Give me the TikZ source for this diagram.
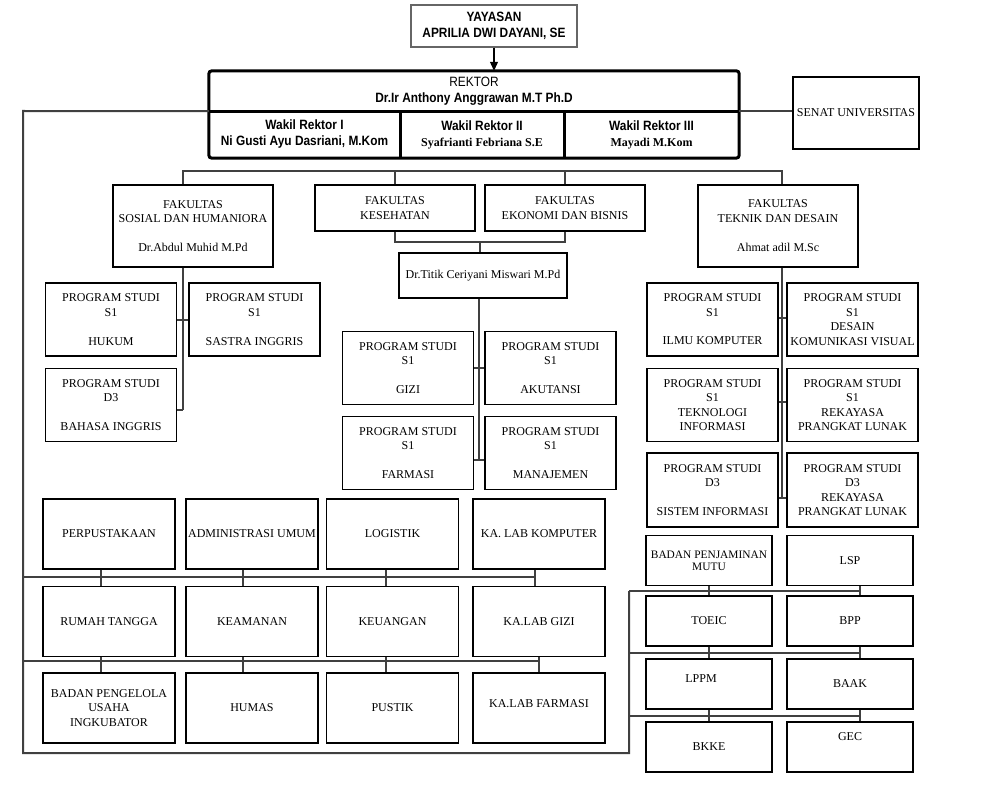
\documentclass[tikz,border=0pt]{standalone}
\usepackage{fontspec}
\setmainfont{Liberation Serif}
\newfontfamily\narrowsans[FakeStretch=0.88]{Liberation Sans}
\usepackage{tikz}
\usetikzlibrary{arrows.meta,calc}

\begin{document}
\begin{tikzpicture}[x=1pt,y=-1pt]
    \tikzstyle{every node}+=[inner sep=0pt, align=center, font=\fontsize{12}{14.5}\selectfont]
    \tikzstyle{box}=[draw=black, line width=1.2pt]
    \tikzstyle{link}=[draw=black!75, line width=2pt]
    \tikzstyle{topfont}=[font=\narrowsans\fontsize{13.5}{16}\selectfont]
    \tikzstyle{topbold}=[font=\narrowsans\bfseries\fontsize{13.5}{16}\selectfont]
    \tikzstyle{fakultas}=[box, minimum width=160pt]
    \tikzstyle{prodi}=[box, minimum width=131pt, minimum height=73pt]
    \tikzstyle{unit}=[box, minimum width=132pt, minimum height=70pt]
    \tikzstyle{badan}=[box, minimum width=126pt, minimum height=50pt]
    \useasboundingbox (0,0) rectangle (1000,794);

    \node [box, draw=black!60, minimum width=166pt, minimum height=42pt, topbold] (yayasan) at (494,26) {YAYASAN\\APRILIA DWI DAYANI, SE};
    \node [minimum width=530pt, minimum height=40pt, topfont] (rektor) at (474,91) {REKTOR\\\textbf{Dr.Ir Anthony Anggrawan M.T Ph.D}};
    \node [minimum width=191pt, minimum height=47pt, topbold] (wr1) at (304.5,134.5) {Wakil Rektor I\\Ni Gusti Ayu Dasriani, M.Kom};
    \node [minimum width=164pt, minimum height=47pt, topbold] (wr2) at (482,134.5) {Wakil Rektor II\\\rmfamily\fontsize{12}{17}\selectfont Syafrianti Febriana S.E};
    \node [minimum width=175pt, minimum height=47pt, topbold] (wr3) at (651.5,134.5) {Wakil Rektor III\\\rmfamily\fontsize{12}{17}\selectfont Mayadi M.Kom};
    \node [box, minimum width=126pt, minimum height=72pt] (senat) at (856,113) {SENAT UNIVERSITAS};
    \draw [line width=3pt, rounded corners=3pt] (rektor.north west) rectangle (wr3.south east);
    \draw [line width=3pt] (rektor.south west) -- (rektor.south east);
    \draw [line width=3pt] (wr1.north east) -- (wr1.south east);
    \draw [line width=3pt] (wr2.north east) -- (wr2.south east);
    \draw [black, line width=1.2pt, -{Triangle[length=9pt,width=8pt]}] (yayasan.south) -- (yayasan.south |- rektor.north);
    \draw [link] (rektor.south east) -- (rektor.south east -| senat.west);

    \node [fakultas, minimum height=82pt] (fsh) at (193,226) {FAKULTAS\\SOSIAL DAN HUMANIORA\\[14pt]Dr.Abdul Muhid M.Pd};
    \node [fakultas, minimum height=46pt] (fkes) at (395,208) {FAKULTAS\\KESEHATAN};
    \node [fakultas, minimum height=46pt] (feb) at (565,208) {FAKULTAS\\EKONOMI DAN BISNIS};
    \node [fakultas, minimum height=82pt] (ftd) at (778,226) {FAKULTAS\\TEKNIK DAN DESAIN\\[15pt]Ahmat adil M.Sc};
    \node [box, minimum width=168pt, minimum height=45pt] (titik) at (483,275.5) {Dr.Titik Ceriyani Miswari M.Pd};

    \node [prodi] (hukum) at (111,319.5) {PROGRAM STUDI\\S1\\[14.5pt]HUKUM};
    \node [prodi] (sastra) at (254.5,319.5) {PROGRAM STUDI\\S1\\[14.5pt]SASTRA INGGRIS};
    \node [prodi] (bing) at (111,405) {PROGRAM STUDI\\D3\\[14.5pt]BAHASA INGGRIS};
    \node [prodi] (gizi) at (408,368) {PROGRAM STUDI\\S1\\[14.5pt]GIZI};
    \node [prodi] (akun) at (550.5,368) {PROGRAM STUDI\\S1\\[14.5pt]AKUTANSI};
    \node [prodi] (farm) at (408,453) {PROGRAM STUDI\\S1\\[14.5pt]FARMASI};
    \node [prodi] (manaj) at (550.5,453) {PROGRAM STUDI\\S1\\[14.5pt]MANAJEMEN};
    \node [prodi] (ilkom) at (712.5,319.5) {PROGRAM STUDI\\S1\\[14pt]ILMU KOMPUTER};
    \node [prodi] (dkv) at (852.5,319.5) {PROGRAM STUDI\\S1\\DESAIN\\KOMUNIKASI VISUAL};
    \node [prodi] (ti) at (712.5,405) {PROGRAM STUDI\\S1\\TEKNOLOGI\\INFORMASI};
    \node [prodi] (rpl1) at (852.5,405) {PROGRAM STUDI\\S1\\REKAYASA\\PRANGKAT LUNAK};
    \node [prodi, minimum height=74pt] (si) at (712.5,490) {PROGRAM STUDI\\D3\\[14pt]SISTEM INFORMASI};
    \node [prodi, minimum height=74pt] (rpl3) at (852.5,490) {PROGRAM STUDI\\D3\\REKAYASA\\PRANGKAT LUNAK};

    \node [unit] (perpus) at (109,534) {PERPUSTAKAAN};
    \node [unit] (admin) at (252,534) {ADMINISTRASI UMUM};
    \node [unit] (logistik) at (392.5,534) {LOGISTIK};
    \node [unit] (labkom) at (539,534) {KA. LAB KOMPUTER};
    \node [unit] (rumah) at (109,621.5) {RUMAH TANGGA};
    \node [unit] (aman) at (252,621.5) {KEAMANAN};
    \node [unit] (uang) at (392.5,621.5) {KEUANGAN};
    \node [unit] (labgizi) at (539,621.5) {KA.LAB GIZI};
    \node [unit] (bpu) at (109,708) {BADAN PENGELOLA\\USAHA\\INGKUBATOR};
    \node [unit] (humas) at (252,708) {HUMAS};
    \node [unit] (pustik) at (392.5,708) {PUSTIK};
    \node [unit, text depth=8pt] (labfarm) at (539,708) {KA.LAB FARMASI};

    \node [badan, font=\fontsize{11.4}{12}\selectfont] (bpm) at (709,560.5) {BADAN PENJAMINAN\\MUTU};
    \node [badan] (lsp) at (850,560.5) {LSP};
    \node [badan] (toeic) at (709,621) {TOEIC};
    \node [badan] (bpp) at (850,621) {BPP};
    \node [badan, text depth=10pt] (lppm) at (709,684) {\hspace*{-16pt}LPPM};
    \node [badan] (baak) at (850,684) {BAAK};
    \node [badan] (bkke) at (709,747) {BKKE};
    \node [badan, text depth=20pt] (gec) at (850,747) {GEC};

    \coordinate (frametl) at (23,111);
    \coordinate (framebl) at (23,753);
    \coordinate (framebr) at (629,753);
    \coordinate (frametr) at (629,591);
    \draw [link] (rektor.south west) -- (frametl) -- (framebl) -- (framebr) -- (frametr);

    \coordinate (busl) at (183,171);
    \coordinate (busr) at (782,171);
    \draw [link] (busl |- fsh.north) -- (busl) -- (busr) -- (busr |- ftd.north);
    \draw [link] (fkes.north) -- (fkes.north |- busl);
    \draw [link] (feb.north) -- (feb.north |- busl);

    \coordinate (kesjoin) at (480,242);
    \draw [link] (fkes.south) |- (kesjoin) -| (feb.south);
    \draw [link] (kesjoin) -- (kesjoin |- titik.north);

    \coordinate (shlow) at (183,410);
    \draw [link] (fsh.south -| shlow) -- (shlow);
    \draw [link] (hukum.east) -- (sastra.west);
    \draw [link] ([yshift=-5pt]bing.east) -- (shlow);

    \coordinate (keslow) at (479,460);
    \draw [link] (titik.south -| keslow) -- (keslow);
    \draw [link] (gizi.east) -- (akun.west);
    \draw [link] ([yshift=-7pt]farm.east) -- ([yshift=-7pt]manaj.west);

    \coordinate (tdlow) at (782,498);
    \draw [link] (ftd.south -| tdlow) -- (tdlow);
    \draw [link] ([yshift=2pt]ilkom.east) -- ([yshift=2pt]dkv.west);
    \draw [link] ([yshift=3pt]ti.east) -- ([yshift=3pt]rpl1.west);
    \draw [link] ([yshift=-8pt]si.east) -- ([yshift=-8pt]rpl3.west);

    \coordinate (bus1) at (23,577);
    \coordinate (bus2) at (23,661);
    \draw [link] (bus1) -- ($(bus1 -| labkom.south)+(-4,0)$);
    \draw [link] (bus2) -- (bus2 -| labgizi.south);
    \draw [link] ([xshift=-8pt]perpus.south) -- ([xshift=-8pt]rumah.north);
    \draw [link] ([xshift=-9pt]admin.south) -- ([xshift=-9pt]aman.north);
    \draw [link] ([xshift=-7pt]logistik.south) -- ([xshift=-7pt]uang.north);
    \draw [link] ([xshift=-4pt]labkom.south) -- ([xshift=-4pt]labgizi.north);
    \draw [link] ([xshift=-8pt]rumah.south) -- ([xshift=-8pt]bpu.north);
    \draw [link] ([xshift=-9pt]aman.south) -- ([xshift=-9pt]humas.north);
    \draw [link] ([xshift=-7pt]uang.south) -- ([xshift=-7pt]pustik.north);
    \draw [link] (labgizi.south) -- (labfarm.north);

    \coordinate (bus3) at (629,591);
    \coordinate (bus4) at (629,652.5);
    \coordinate (bus5) at (629,715.5);
    \draw [link] (bus3) -- ($(bus3 -| lsp.south)+(10,0)$);
    \draw [link] (bus4) -- ($(bus4 -| lsp.south)+(10,0)$);
    \draw [link] (bus5) -- ($(bus5 -| lsp.south)+(10,0)$);
    \draw [link] (bpm.south) -- (toeic.north);
    \draw [link] (toeic.south) -- (lppm.north);
    \draw [link] (lppm.south) -- (bkke.north);
    \draw [link] ([xshift=10pt]lsp.south) -- ([xshift=10pt]bpp.north);
    \draw [link] ([xshift=10pt]bpp.south) -- ([xshift=10pt]baak.north);
    \draw [link] ([xshift=10pt]baak.south) -- ([xshift=10pt]gec.north);
\end{tikzpicture}
\end{document}
